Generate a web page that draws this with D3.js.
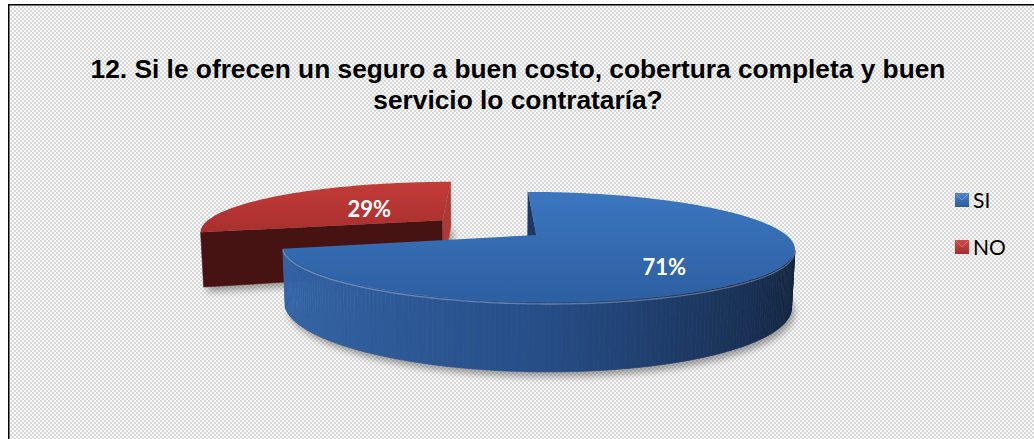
<!DOCTYPE html>
<html>
<head>
<meta charset="utf-8">
<script src="https://cdn.jsdelivr.net/npm/d3@7"></script>
<style>
  html, body { margin: 0; padding: 0; background: #fff; overflow: hidden; }
  svg { display: block; }
</style>
</head>
<body>
<svg id="chart" width="1034" height="439"></svg>
<script>
// ---- data ----
const categories = ["SI", "NO"];
const values = [71, 29];
const valueLabels = ["71%", "29%"];
const titleLines = [
  "12. Si le ofrecen un seguro a buen costo, cobertura completa y buen",
  "servicio lo contrataría?"
];

// ---- styling per category ----
const topColors  = { SI: ["#3b76bf", "#2d5fa2"], NO: ["#c33c38", "#a82f2e"] };
const wallColors = { SI: ["#3566a8", "#264d86", "#13233d"], NO: ["#a83331", "#7e2424", "#4a1313"] };
const cutColors  = { SI: ["#1c3866", "#1c3866", "#24467c"], NO: ["#4d1515", "#471212", "#ad3a37"] };
const legendColors = { SI: ["#4d86cc", "#2a5a9a"], NO: ["#d04a45", "#a52d2c"] };

const W = 1034, H = 439;
const svg = d3.select("#chart");
const defs = svg.append("defs");

// fine checker fill of the chart area
const pat = defs.append("pattern").attr("id", "bgPattern")
  .attr("width", 4).attr("height", 4).attr("patternUnits", "userSpaceOnUse");
pat.append("rect").attr("width", 4).attr("height", 4).attr("fill", "#f8f8f8");
pat.append("rect").attr("width", 2).attr("height", 2).attr("fill", "#d8d8d8");
pat.append("rect").attr("x", 2).attr("y", 2).attr("width", 2).attr("height", 2).attr("fill", "#d8d8d8");

svg.append("rect").attr("x", 8).attr("y", 4).attr("width", W).attr("height", H)
  .attr("fill", "url(#bgPattern)");
svg.append("path").attr("d", "M8.75,439V4.75H1034")
  .attr("fill", "none").attr("stroke", "#000").attr("stroke-width", 1.5);

// ---- title ----
const title = svg.append("g")
  .attr("font-family", "'Liberation Sans', Arial, sans-serif")
  .attr("font-weight", "bold").attr("font-size", 26.3).attr("fill", "#000")
  .attr("text-anchor", "middle");
title.selectAll("text").data(titleLines).join("text")
  .attr("x", 518).attr("y", (d, i) => 78 + i * 31)
  .text(d => d);

// ---- perspective camera for the 3D pie ----
const cam = { cx: 490, cy: 235, k: 1120, D: 4.48, s: 0.21 };
cam.c = Math.sqrt(1 - cam.s * cam.s);
const camPos = [0, -cam.D * cam.c, cam.D * cam.s];
function project([x, y, z]) {
  const depth = y * cam.c + cam.D - z * cam.s;
  const w = y * cam.s + z * cam.c;
  return [cam.cx + cam.k * x / depth, cam.cy - cam.k * w / depth];
}
function facing(p, n) {
  return (camPos[0] - p[0]) * n[0] + (camPos[1] - p[1]) * n[1] + (camPos[2] - p[2]) * n[2] > 0;
}

const R = 1, thick = 0.229;
const pieOrigin = [0.185, 0];
const explodeBy = [0, 0.49];

const arcs = d3.pie().sort(null).value(d => d)(values);

const slices = arcs.map((a, i) => {
  const mid = (a.startAngle + a.endAngle) / 2;
  const ox = pieOrigin[0] + explodeBy[i] * Math.sin(mid);
  const oy = pieOrigin[1] + explodeBy[i] * Math.cos(mid);
  return { i, cat: categories[i], a0: a.startAngle, a1: a.endAngle, mid, ox, oy };
});

const line = d3.line();
const poly = pts => line(pts.map(project)) + "Z";

// gradients for top faces and legend keys
categories.forEach(cat => {
  const g = defs.append("linearGradient").attr("id", "top-" + cat)
    .attr("x1", 0).attr("y1", 0).attr("x2", 0).attr("y2", 1);
  g.append("stop").attr("offset", "0%").attr("stop-color", topColors[cat][0]);
  g.append("stop").attr("offset", "100%").attr("stop-color", topColors[cat][1]);
  const l = defs.append("linearGradient").attr("id", "key-" + cat)
    .attr("x1", 0).attr("y1", 0).attr("x2", 0).attr("y2", 1);
  l.append("stop").attr("offset", "0%").attr("stop-color", legendColors[cat][0]);
  l.append("stop").attr("offset", "100%").attr("stop-color", legendColors[cat][1]);
});

// soft drop shadow
const blur = defs.append("filter").attr("id", "shadowBlur")
  .attr("x", "-20%").attr("y", "-20%").attr("width", "140%").attr("height", "140%");
blur.append("feGaussianBlur").attr("stdDeviation", 3.5);

const pieG = svg.append("g");
const shadowG = pieG.append("g").attr("filter", "url(#shadowBlur)").attr("opacity", 0.35)
  .attr("transform", "translate(3,5)");

const rimPt = (s, t, z) => [s.ox + R * Math.sin(t), s.oy + R * Math.cos(t), z];

slices.forEach(s => {
  const n = Math.max(8, Math.ceil((s.a1 - s.a0) / (Math.PI / 180)));
  const ts = d3.range(n + 1).map(j => s.a0 + (s.a1 - s.a0) * j / n);
  shadowG.append("path")
    .attr("d", poly([[s.ox, s.oy, -thick], ...ts.map(t => rimPt(s, t, -thick))]))
    .attr("fill", "#000");
});

// draw the slice lying further back first
const order = slices.slice().sort((p, q) => q.oy - p.oy);

order.forEach(s => {
  const g = pieG.append("g").attr("class", "slice-" + s.cat);
  const n = Math.max(8, Math.ceil((s.a1 - s.a0) / (Math.PI / 180)));
  const ts = d3.range(n + 1).map(j => s.a0 + (s.a1 - s.a0) * j / n);
  const ctrTop = [s.ox, s.oy, 0], ctrBot = [s.ox, s.oy, -thick];
  const wallShade = d3.scaleLinear().domain([-1, 0, 1]).range(wallColors[s.cat]);
  const cutShade = d3.scaleLinear().domain([-1, 0.3, 1]).range(cutColors[s.cat]);

  // radial cut faces
  [[s.a0, [-Math.cos(s.a0), Math.sin(s.a0), 0]],
   [s.a1, [Math.cos(s.a1), -Math.sin(s.a1), 0]]].forEach(([t, nrm]) => {
    const rimTop = rimPt(s, t, 0);
    const midP = [(s.ox + rimTop[0]) / 2, (s.oy + rimTop[1]) / 2, -thick / 2];
    if (!facing(midP, nrm)) return;
    const c = cutShade(nrm[0]);
    g.append("path").attr("d", poly([ctrTop, rimTop, rimPt(s, t, -thick), ctrBot]))
      .attr("fill", c).attr("stroke", c).attr("stroke-width", 0.5);
  });

  // outer wall, one strip per degree
  const visibleRun = [];
  for (let j = 0; j < n; j++) {
    const tm = (ts[j] + ts[j + 1]) / 2;
    const nrm = [Math.sin(tm), Math.cos(tm), 0];
    const p = rimPt(s, tm, -thick / 2);
    if (!facing(p, nrm)) continue;
    visibleRun.push(j);
    const c = wallShade(nrm[0]);
    g.append("path")
      .attr("d", poly([rimPt(s, ts[j], 0), rimPt(s, ts[j + 1], 0), rimPt(s, ts[j + 1], -thick), rimPt(s, ts[j], -thick)]))
      .attr("fill", c).attr("stroke", c).attr("stroke-width", 0.7);
  }

  // top face
  g.append("path")
    .attr("d", poly([ctrTop, ...ts.map(t => rimPt(s, t, 0))]))
    .attr("fill", `url(#top-${s.cat})`);

  // light bevel along the front rim
  if (visibleRun.length) {
    const pts = [];
    visibleRun.forEach(j => { pts.push(rimPt(s, ts[j], 0)); pts.push(rimPt(s, ts[j + 1], 0)); });
    g.append("path").attr("d", line(pts.map(p => project([p[0], p[1], -0.006]))))
      .attr("fill", "none").attr("stroke", "rgba(255,255,255,0.28)").attr("stroke-width", 1.3);
  }
});

// ---- value labels ----
const labelRadius = [0.58, 0.43];
const labelShift = [[0, 12], [0, 0]];
svg.append("g")
  .attr("font-family", "Lato, 'Open Sans', sans-serif").attr("font-weight", "bold")
  .attr("font-size", 22).attr("fill", "#fff").attr("text-anchor", "middle")
  .selectAll("text").data(slices).join("text")
  .attr("x", s => project([s.ox + labelRadius[s.i] * Math.sin(s.mid), s.oy + labelRadius[s.i] * Math.cos(s.mid), 0])[0] + labelShift[s.i][0])
  .attr("y", s => project([s.ox + labelRadius[s.i] * Math.sin(s.mid), s.oy + labelRadius[s.i] * Math.cos(s.mid), 0])[1] + labelShift[s.i][1])
  .attr("dy", "0.36em")
  .text(s => valueLabels[s.i]);

// ---- legend ----
const legend = svg.append("g").attr("transform", "translate(955,193)");
const item = legend.selectAll("g").data(categories).join("g")
  .attr("transform", (d, i) => `translate(0,${i * 47})`);
item.append("rect").attr("width", 14).attr("height", 14)
  .attr("fill", d => `url(#key-${d})`);
item.append("path").attr("d", "M1,1L7,7L13,1").attr("fill", "none")
  .attr("stroke", "rgba(255,255,255,0.25)").attr("stroke-width", 1);
item.append("text").attr("x", 18).attr("y", 14.5)
  .attr("font-family", "Lato, 'Open Sans', sans-serif").attr("font-size", 21).attr("fill", "#000")
  .text(d => d);
</script>
</body>
</html>
